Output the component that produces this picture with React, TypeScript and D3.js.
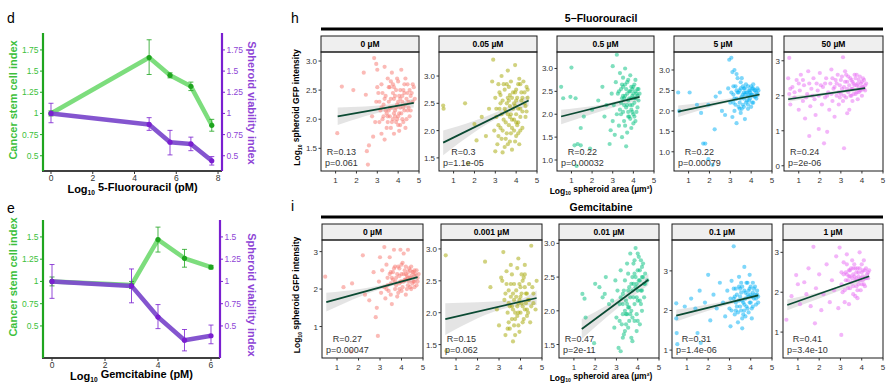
import React, { useEffect, useRef } from 'react'
import * as d3 from 'd3'

const FONT = 'Liberation Sans, Arial, Helvetica, sans-serif'
const STEM = '#1fa51f'
const STEM_LINE = '#6fd96f'
const STEM_TEXT = '#3cbf3c'
const VIAB = '#7a1fd0'
const VIAB_LINE = '#7d4ccc'
const VIAB_TEXT = '#8e44d6'

// d: 5-fluorouracil, log10 dose (pM)
const fuLogDose = [0, 4.7, 5.7, 6.7, 7.7]
const fuStem = [1, 1.66, 1.45, 1.32, 0.86]
const fuStemLo = [0.97, 1.46, 1.42, 1.27, 0.79]
const fuStemHi = [1.03, 1.87, 1.48, 1.37, 0.93]
const fuViab = [1, 0.87, 0.66, 0.64, 0.44]
const fuViabLo = [0.89, 0.8, 0.51, 0.56, 0.39]
const fuViabHi = [1.12, 0.95, 0.8, 0.72, 0.49]
const fuIndexTicks = [0.5, 0.75, 1, 1.25, 1.5, 1.75]
const fuDoseTicks = [0, 2, 4, 6, 8]

// e: gemcitabine
const gemLogDose = [0, 3, 4, 5, 6]
const gemStem = [1, 0.96, 1.47, 1.26, 1.16]
const gemStemLo = [0.95, 0.92, 1.33, 1.16, 1.14]
const gemStemHi = [1.05, 1.0, 1.61, 1.36, 1.18]
const gemViab = [1, 0.95, 0.6, 0.34, 0.39]
const gemViabLo = [0.81, 0.76, 0.47, 0.22, 0.3]
const gemViabHi = [1.19, 1.14, 0.74, 0.46, 0.51]
const gemIndexTicks = [0.5, 0.75, 1, 1.25, 1.5]
const gemDoseTicks = [0, 2, 4, 6]

// h / i facets
const doseColors = ['#F8766D', '#A3A500', '#00BF7D', '#00B0F6', '#E76BF3']
const areaTicks = [1, 2, 3, 4, 5]

const fuDoses = ['0 µM', '0.05 µM', '0.5 µM', '5 µM', '50 µM']
const fuYDomains = [[1.11, 3.155], [1.26, 3.44], [0.76, 3.36], [0.53, 3.44], [-0.15, 3.25]]
const fuYTicks = [[1.5, 2, 2.5, 3], [1.5, 2, 2.5, 3], [1, 1.5, 2, 2.5, 3], [1, 1.5, 2, 2.5, 3], [0, 1, 2, 3]]
const fuYFmt = ['.1f', '.1f', '.1f', '.1f', 'd']
const fuR = ['R=0.13', 'R=0.3', 'R=0.22', 'R=0.22', 'R=0.24']
const fuP = ['p=0.061', 'p=1.1e-05', 'p=0.00032', 'p=0.00079', 'p=2e-06']
const fuFits = [[1.1, 2.05, 4.75, 2.28], [0.5, 1.78, 4.6, 2.55], [0.5, 1.95, 4.3, 2.38], [0.5, 1.98, 4.4, 2.4], [0.5, 1.9, 4.15, 2.22]]
const fuBands = [
  [[1.1, 1.9, 2.2], [3.7, 2.16, 2.26], [4.75, 2.2, 2.36]],
  [[0.5, 1.55, 2.0], [3.5, 2.3, 2.42], [4.6, 2.45, 2.65]],
  [[0.5, 1.78, 2.1], [3.6, 2.22, 2.34], [4.3, 2.3, 2.45]],
  [[0.5, 1.85, 2.13], [3.6, 2.28, 2.37], [4.4, 2.34, 2.47]],
  [[0.5, 1.83, 1.98], [2.8, 2.06, 2.14], [4.15, 2.16, 2.28]],
]
const fuPts0 = '1.08,1.76;1.3,2.56;1.85,2.5;2.35,2.8;2.45,2.42;2.5,1.45;2.55,1.22;2.6,1.55;2.8,1.7;2.75,2.05;2.85,3.05;2.95,2.95;2.95,2.3;3.0,2.85;3.05,2.45;3.1,1.95;3.15,2.15;3.2,2.6;3.2,1.75;3.25,2.0;3.3,2.25;3.35,2.9;3.35,1.65;3.4,2.4;3.45,2.1;3.5,2.7;3.5,1.95;3.55,2.3;3.6,2.05;3.6,2.55;3.65,1.85;3.7,2.2;3.7,2.8;3.75,2.0;3.8,2.35;3.8,1.75;3.85,2.15;3.9,2.5;3.9,1.95;3.95,2.25;4.0,2.05;4.0,2.65;4.05,2.4;4.1,1.9;4.1,2.2;4.15,2.85;4.2,2.3;4.2,2.0;4.25,2.5;4.3,2.15;4.35,1.85;4.4,2.35;4.45,2.6;4.5,2.2;4.55,2.05;4.6,2.4;4.7,2.3;4.75,2.55;3.3,2.05;3.65,2.35;3.85,2.05;4.05,2.1;3.55,2.15;2.9,1.95;3.75,2.45;4.3,2.45'
const fuCore0 = '3.1,2.3;3.25,2.45;3.4,2.15;3.45,1.85;3.55,2.55;3.6,2.2;3.7,1.95;3.75,2.6;3.8,2.1;3.85,2.4;3.95,2.0;3.95,2.7;4.0,2.3;4.05,1.8;4.1,2.5;4.15,2.1;4.2,2.4;4.25,1.95;4.3,2.6;4.35,2.25;4.4,2.0;4.45,2.45;4.5,2.3;4.55,2.5;4.6,2.15;4.65,2.45;4.7,2.6;4.8,2.35;3.35,2.35;3.5,2.05;3.65,2.65;3.9,2.2;4.0,1.9;4.25,2.2;4.45,2.15;3.2,2.2;3.0,2.55;4.35,2.7;3.8,2.55;4.1,2.35'
const fuPts1 = '0.5,2.46;0.52,2.4;1.55,2.5;1.7,1.4;2.0,2.12;2.1,1.82;2.35,2.25;2.55,1.9;2.7,2.4;2.85,2.9;2.9,3.3;2.95,2.0;3.0,1.62;3.0,2.6;3.05,2.25;3.1,1.75;3.15,2.85;3.2,2.4;3.25,2.05;3.3,3.0;3.3,1.85;3.35,2.55;3.4,2.2;3.45,1.7;3.45,2.75;3.5,2.35;3.55,1.95;3.6,3.1;3.6,2.6;3.65,2.1;3.7,1.8;3.7,2.45;3.75,2.9;3.8,2.2;3.8,1.65;3.85,2.7;3.9,2.0;3.9,2.5;3.95,3.2;4.0,2.3;4.0,1.9;4.05,2.6;4.1,2.15;4.1,2.85;4.15,1.75;4.2,2.4;4.25,2.7;4.3,2.05;4.35,2.9;4.4,2.5;4.45,2.25;4.5,2.8;4.55,2.6;3.35,1.6;3.55,2.85;4.0,2.75;3.25,2.65;3.75,2.3;3.95,2.45;4.2,2.0;3.15,2.1;3.65,2.55'
const fuCore1 = '3.05,2.4;3.15,1.9;3.2,2.7;3.3,2.3;3.35,2.0;3.4,2.85;3.5,2.15;3.55,2.5;3.6,1.75;3.65,2.8;3.7,2.25;3.75,1.95;3.8,2.6;3.85,2.4;3.9,2.2;3.95,1.8;4.0,2.55;4.05,2.1;4.1,2.4;4.15,2.95;4.2,2.25;4.25,2.55;4.3,2.35;4.4,2.7;4.45,2.45;4.5,2.35;4.55,2.75;3.45,2.4;3.6,2.3;3.8,2.05;3.95,2.7;4.1,1.95;4.3,2.6;3.25,2.5;3.7,2.65;4.0,2.15;3.5,1.85;4.2,2.85'
const fuPts2 = '0.5,2.6;0.6,2.35;0.95,2.38;1.0,3.02;1.2,2.35;1.15,1.32;1.3,1.35;1.45,1.32;1.25,0.87;1.45,1.7;1.6,1.95;1.9,1.25;2.0,2.1;2.3,2.3;2.5,2.6;2.6,1.95;2.7,2.2;2.85,1.35;2.9,1.65;2.95,2.45;3.0,1.85;3.0,3.05;3.05,2.2;3.1,1.55;3.15,2.7;3.2,2.0;3.2,3.3;3.25,2.45;3.3,1.75;3.35,2.9;3.4,2.25;3.45,1.5;3.5,2.6;3.5,2.05;3.55,1.85;3.6,2.4;3.6,3.0;3.65,2.15;3.7,1.6;3.7,2.7;3.75,2.3;3.8,1.95;3.8,2.5;3.85,2.85;3.9,2.1;3.9,1.7;3.95,2.4;4.0,2.6;4.0,2.0;4.05,2.25;4.1,2.75;4.1,1.85;4.15,2.45;4.2,2.15;4.25,2.55;3.35,2.1;3.55,2.35;3.75,2.05;3.95,2.55;3.45,2.65;4.05,2.35;3.65,1.3;3.85,2.2'
const fuCore2 = '3.3,2.5;3.4,2.0;3.45,2.35;3.5,2.8;3.55,2.2;3.6,1.75;3.65,2.55;3.7,2.2;3.75,2.75;3.8,2.35;3.85,1.9;3.9,2.6;3.95,2.2;4.0,2.45;4.0,1.8;4.05,2.65;4.1,2.35;4.15,2.05;4.2,2.55;4.25,2.3;4.3,2.45;3.5,2.4;3.7,2.45;3.85,2.5;3.95,2.05;4.1,2.5;3.6,2.65;3.75,1.95;4.2,2.4;3.4,2.55;3.9,2.35;4.05,1.95'
const fuPts3 = '0.5,2.45;0.55,2.0;1.05,2.45;1.4,2.15;1.6,1.95;1.7,1.2;1.8,1.2;1.95,0.82;2.15,0.68;1.95,2.15;2.25,1.55;2.3,2.35;2.5,2.45;2.6,2.0;2.75,1.9;2.9,2.55;2.95,3.25;3.0,2.2;3.05,3.3;3.1,1.85;3.1,2.95;3.15,2.4;3.2,2.0;3.2,3.0;3.25,2.6;3.3,1.7;3.3,2.3;3.35,2.8;3.4,2.1;3.45,2.5;3.5,1.95;3.5,2.7;3.55,2.35;3.6,2.15;3.65,2.55;3.7,1.8;3.7,2.4;3.75,2.65;3.8,2.25;3.85,2.05;3.9,2.5;3.95,2.3;4.0,2.6;4.0,2.1;4.05,2.4;4.1,2.2;4.15,2.5;4.2,2.35;4.25,2.45;4.3,2.55;3.35,2.45;3.55,2.05;3.75,2.45;3.95,2.45;3.45,2.2;3.65,2.3;4.1,2.65;3.25,2.15;3.85,2.35'
const fuCore3 = '3.05,2.45;3.15,2.6;3.2,2.3;3.3,2.9;3.4,2.45;3.45,2.05;3.5,2.55;3.55,2.8;3.6,2.4;3.65,2.1;3.7,2.55;3.75,2.2;3.8,2.45;3.85,2.6;3.9,2.25;3.95,2.5;4.0,2.4;4.05,2.2;4.1,2.55;4.15,2.35;4.2,2.5;4.3,2.4;4.35,2.5;3.5,2.3;3.65,2.45;3.9,2.4;4.05,2.55;4.25,2.3;3.3,2.5;3.6,2.6;3.85,2.15;3.15,2.2'
const fuPts4 = '0.55,3.08;0.5,2.5;0.55,2.05;0.6,1.75;0.7,2.25;0.8,1.95;0.9,2.45;1.0,1.6;1.05,2.15;1.1,2.6;1.2,1.85;1.25,2.3;1.3,1.35;1.4,2.05;1.45,2.7;1.5,0.85;1.55,1.7;1.6,2.2;1.7,2.5;1.75,1.9;1.8,1.45;1.85,2.35;1.95,1.05;1.95,2.0;2.0,2.65;2.1,1.75;2.15,2.25;2.2,0.64;2.25,1.95;2.3,2.5;2.35,0.97;2.4,2.1;2.45,1.6;2.5,2.35;2.55,2.75;2.6,1.85;2.65,2.2;2.7,1.4;2.75,2.45;2.8,2.0;2.85,2.6;2.9,1.75;2.95,2.3;3.0,2.05;3.05,2.55;3.1,3.1;3.1,1.85;3.15,0.5;3.15,2.25;3.2,2.7;3.25,1.95;3.3,2.4;3.35,2.1;3.4,1.6;3.45,2.5;3.5,2.2;3.55,1.85;3.6,2.35;3.65,2.6;3.7,2.05;3.75,2.3;3.8,1.9;3.85,2.45;3.9,2.15;3.95,2.35;4.0,2.0;4.05,2.5;4.1,2.2;4.15,2.3;3.55,2.4;3.85,2.1;2.25,2.35;1.65,2.0;1.2,2.45;0.8,2.1;3.3,1.5'
const fuCore4 = '2.55,2.05;2.6,2.5;2.7,2.25;2.8,2.35;2.9,2.1;3.0,2.45;3.05,2.2;3.15,2.0;3.2,2.4;3.3,2.2;3.35,2.55;3.4,2.3;3.45,2.0;3.5,2.45;3.55,2.2;3.6,2.05;3.65,2.3;3.7,2.5;3.75,2.1;3.8,2.35;3.85,2.25;3.9,2.55;3.95,2.15;4.0,2.4;4.05,2.25;4.1,2.45;4.15,2.15;4.2,2.35;2.05,2.3;1.9,2.15;1.5,2.35;1.35,1.95;1.0,2.35;0.6,2.2;2.35,2.0;2.95,1.95;3.25,2.6;3.75,2.6;4.0,2.25;3.5,2.0'

const gemDoses = ['0 µM', '0.001 µM', '0.01 µM', '0.1 µM', '1 µM']
const gemYDomains = [[0.16, 3.31], [1.29, 3.14], [1.3, 3.05], [0.8, 3.78], [0.35, 3.31]]
const gemYTicks = [[1, 2, 3], [1.5, 2, 2.5, 3], [1.5, 2, 2.5, 3], [1, 2, 3], [1, 2, 3]]
const gemYFmt = ['d', '.1f', '.1f', 'd', 'd']
const gemR = ['R=0.27', 'R=0.15', 'R=0.47', 'R=0.31', 'R=0.41']
const gemP = ['p=0.00047', 'p=0.062', 'p=2e-11', 'p=1.4e-06', 'p=3.4e-10']
const gemFits = [[0.5, 1.65, 4.75, 2.32], [0.5, 1.9, 4.75, 2.23], [1.37, 1.73, 4.5, 2.46], [0.5, 1.87, 4.35, 2.38], [0.5, 1.68, 4.35, 2.4]]
const gemBands = [
  [[0.5, 1.4, 1.9], [3.8, 2.12, 2.22], [4.75, 2.22, 2.42]],
  [[0.5, 1.65, 2.15], [3.8, 2.1, 2.2], [4.75, 2.12, 2.35]],
  [[1.37, 1.58, 1.88], [3.7, 2.2, 2.33], [4.5, 2.38, 2.55]],
  [[0.5, 1.72, 2.02], [3.5, 2.22, 2.32], [4.35, 2.32, 2.45]],
  [[0.5, 1.55, 1.82], [3.5, 2.15, 2.27], [4.35, 2.33, 2.48]],
]
const gemPts0 = '0.45,2.33;1.3,2.05;1.7,2.15;1.65,0.33;2.2,2.9;2.3,1.85;2.5,1.7;2.7,2.45;2.8,1.25;2.85,1.5;2.9,0.75;2.95,2.2;3.0,2.85;3.05,1.9;3.1,2.5;3.2,3.12;3.2,2.05;3.25,1.75;3.3,2.65;3.35,2.3;3.4,1.95;3.45,2.85;3.5,2.15;3.55,1.6;3.6,2.45;3.65,3.05;3.7,2.0;3.75,2.3;3.8,1.8;3.85,2.6;3.9,2.15;3.95,3.05;4.0,2.4;4.0,1.95;4.05,2.7;4.1,2.2;4.15,2.5;4.2,1.85;4.25,2.35;4.3,2.1;4.35,2.55;4.4,2.3;4.45,2.0;4.5,2.45;4.55,2.2;4.6,2.35;4.7,2.1;4.75,2.3;4.3,3.05;4.1,2.95;3.5,2.45;3.7,2.2;4.2,2.25;3.9,2.35;3.3,2.0;4.4,2.05;4.6,2.5'
const gemCore0 = '3.35,2.1;3.45,2.4;3.5,1.85;3.6,2.25;3.65,2.55;3.75,2.1;3.8,2.4;3.85,1.9;3.9,2.55;3.95,2.2;4.0,2.65;4.05,2.05;4.1,2.4;4.15,2.25;4.2,2.6;4.25,2.0;4.3,2.45;4.35,2.2;4.4,2.5;4.45,2.35;4.5,2.15;4.55,2.45;4.6,2.2;4.65,2.4;4.7,2.5;4.75,2.2;4.8,2.4;3.55,2.3;3.7,2.6;4.0,2.2;4.2,2.4;4.45,2.6;3.9,2.0;4.3,2.3;4.6,2.05'
const gemPts1 = '0.52,2.9;0.55,1.4;2.35,2.8;2.6,2.4;2.9,2.05;3.0,1.8;3.1,2.55;3.2,2.95;3.25,2.2;3.3,1.65;3.35,2.65;3.4,2.0;3.45,2.35;3.5,1.75;3.55,2.75;3.6,2.1;3.65,1.55;3.7,2.45;3.75,1.9;3.8,2.25;3.85,2.7;3.9,2.0;3.95,1.7;4.0,2.4;4.05,2.15;4.1,1.85;4.15,2.55;4.2,2.05;4.25,2.3;4.3,1.95;4.35,2.2;4.4,2.45;4.5,2.1;4.6,2.3;4.75,2.5;4.7,2.05;3.15,2.5;3.45,1.85;3.75,2.0;3.95,2.2;4.05,2.6;3.55,2.25;3.85,1.95;4.2,2.75;3.35,2.45;3.65,2.05;4.5,3.05;3.9,2.85'
const gemCore1 = '3.3,2.3;3.4,1.75;3.5,2.1;3.55,2.45;3.6,1.9;3.7,2.2;3.75,1.65;3.8,2.35;3.85,2.1;3.9,1.8;3.95,2.45;4.0,2.0;4.05,2.3;4.1,2.1;4.15,1.9;4.2,2.4;4.25,2.15;4.3,2.3;4.35,2.0;4.4,2.2;4.45,1.85;4.55,2.4;4.6,2.15;3.65,2.3;3.9,2.15;4.1,2.5;3.45,2.15;3.7,1.8;4.0,2.25;4.3,2.05;3.6,2.6;4.2,2.6'
const gemPts2 = '1.4,2.25;1.5,2.18;1.55,1.9;1.95,1.52;2.0,2.4;2.2,2.35;2.35,2.2;2.45,2.25;2.5,2.5;2.65,2.1;2.8,2.15;2.9,1.75;2.95,2.45;3.0,1.9;3.05,2.3;3.1,1.45;3.15,2.1;3.2,1.4;3.2,2.6;3.25,1.8;3.3,2.25;3.35,1.65;3.4,2.45;3.45,1.95;3.5,2.7;3.5,2.1;3.55,1.75;3.6,2.35;3.65,2.85;3.7,2.0;3.7,1.6;3.75,2.5;3.8,2.2;3.85,1.85;3.85,2.75;3.9,2.93;3.9,2.35;3.95,1.95;4.0,2.6;4.0,2.15;4.05,2.8;4.1,1.8;4.1,2.45;4.15,2.3;4.2,2.65;4.2,2.0;4.25,2.5;4.3,2.2;4.35,2.4;4.45,2.45;3.6,2.05;3.4,2.0;3.8,2.4;4.0,2.3;3.3,1.6;3.55,2.3;3.95,1.7;4.15,2.75;3.75,1.55'
const gemCore2 = '3.15,1.85;3.2,2.2;3.3,1.95;3.35,2.3;3.4,1.7;3.45,2.15;3.5,1.95;3.55,2.55;3.6,1.85;3.65,2.2;3.7,2.4;3.75,1.9;3.8,2.7;3.85,2.1;3.9,2.5;3.95,2.2;4.0,2.85;4.0,1.85;4.05,2.45;4.1,2.6;4.15,2.1;4.2,2.3;4.25,2.7;4.3,2.4;4.35,2.55;3.45,1.8;3.65,1.95;3.95,2.4;4.1,2.15;3.3,2.1;3.85,2.55;4.2,2.5;3.55,2.05;3.75,2.3'
const gemPts3 = '0.5,2.18;0.5,1.8;0.52,1.43;0.55,1.15;0.9,2.1;1.2,2.3;1.4,2.05;1.5,1.43;1.6,2.5;1.65,1.18;1.85,2.2;2.0,2.9;2.1,1.75;2.25,2.4;2.4,2.05;2.55,2.7;2.7,2.2;2.8,1.85;2.9,2.5;3.0,2.05;3.05,1.6;3.1,2.75;3.2,3.62;3.2,2.3;3.25,1.9;3.3,2.55;3.35,2.1;3.4,1.7;3.45,2.85;3.5,2.35;3.55,2.0;3.6,1.55;3.6,2.6;3.65,2.2;3.7,3.1;3.75,1.85;3.75,2.45;3.8,2.1;3.85,2.7;3.9,1.95;3.9,2.35;3.95,2.55;4.0,2.2;4.05,1.8;4.1,2.45;4.15,2.3;4.2,2.6;4.25,2.15;4.3,2.4;4.35,2.35;3.45,2.25;3.7,2.0;3.95,2.9;3.3,2.0;3.55,2.7;4.05,2.05'
const gemCore3 = '3.05,2.3;3.1,2.0;3.2,2.55;3.3,2.2;3.35,2.4;3.4,1.95;3.45,2.6;3.5,2.1;3.55,2.45;3.6,2.25;3.65,1.9;3.7,2.5;3.75,2.3;3.8,2.7;3.85,2.05;3.9,2.5;3.95,2.2;4.0,2.6;4.05,2.35;4.1,2.1;4.15,2.55;4.2,2.4;4.25,2.3;4.3,2.5;4.35,2.2;3.5,2.55;3.7,2.15;4.0,2.4;3.25,2.35;3.85,2.4;4.1,2.7;3.6,1.8'
const gemPts4 = '0.46,1.31;0.7,1.9;0.92,2.43;1.0,2.2;1.1,1.7;1.3,2.25;1.4,1.95;1.5,2.6;1.6,1.65;1.73,3.14;1.8,1.22;1.85,2.1;2.0,2.45;2.1,1.55;2.2,1.95;2.35,2.7;2.5,1.75;2.6,2.3;2.7,2.05;2.8,2.9;2.9,1.6;2.96,3.12;3.04,0.93;3.05,2.5;3.1,2.0;3.15,2.75;3.2,1.75;3.25,2.3;3.3,2.95;3.35,2.1;3.4,1.7;3.45,2.55;3.5,2.25;3.55,2.8;3.6,1.95;3.65,2.4;3.7,2.6;3.75,2.15;3.8,1.85;3.85,2.5;3.9,3.0;3.9,2.3;3.95,2.05;4.0,2.7;4.05,2.4;4.1,2.2;4.15,2.55;4.2,2.35;4.3,2.5;3.45,2.4;3.75,2.35;4.0,2.5;3.6,2.6;3.3,2.45;3.85,2.2'
const gemCore4 = '3.05,2.2;3.15,2.45;3.2,2.05;3.3,2.7;3.35,2.3;3.4,2.55;3.45,2.1;3.5,2.6;3.55,2.35;3.6,2.15;3.65,2.7;3.7,2.3;3.75,2.5;3.8,2.05;3.85,2.4;3.9,2.6;3.95,2.35;4.0,2.2;4.05,2.55;4.1,2.8;4.15,2.35;4.2,2.6;4.25,2.45;4.3,2.35;4.35,2.55;3.4,2.4;3.6,2.45;3.8,2.6;4.05,2.3;3.25,2.5;3.7,1.9;4.15,2.15'

const fuPts = [fuPts0 + ';' + fuCore0, fuPts1 + ';' + fuCore1, fuPts2 + ';' + fuCore2, fuPts3 + ';' + fuCore3, fuPts4 + ';' + fuCore4]
const gemPts = [gemPts0 + ';' + gemCore0, gemPts1 + ';' + gemCore1, gemPts2 + ';' + gemCore2, gemPts3 + ';' + gemCore3, gemPts4 + ';' + gemCore4]

const parsePts = (s: string) => s.split(';').map((p) => p.split(',').map(Number))

type Sel = d3.Selection<SVGSVGElement, unknown, null, undefined>

// "Log10 ..." label with a subscript
function logLabel(el: any, rest: string) {
  el.append('tspan').text('Log')
  el.append('tspan').attr('font-size', '0.6em').attr('dy', '0.35em').text('10')
  el.append('tspan').attr('dy', '-0.35em').text(' ' + rest)
}

function drawDual(svg: Sel, o: any) {
  const x = d3.scaleLinear().domain(o.xDomain).range([o.left, o.right])
  const y = d3.scaleLinear().domain(o.yDomain).range([o.bottom, o.top])
  const g = svg.append('g').attr('font-family', FONT)

  g.append('text').attr('x', 7).attr('y', o.letterY).attr('font-size', 14).text(o.letter)

  // x axis
  g.append('line').attr('x1', o.left - 1).attr('x2', o.right).attr('y1', o.bottom).attr('y2', o.bottom)
    .attr('stroke', '#000').attr('stroke-width', 1.3)
  o.xTicks.forEach((t: number) => {
    g.append('line').attr('x1', x(t)).attr('x2', x(t)).attr('y1', o.bottom).attr('y2', o.bottom + 3).attr('stroke', '#333')
    g.append('text').attr('x', x(t)).attr('y', o.bottom + 10).attr('text-anchor', 'middle')
      .attr('font-size', 8.5).attr('fill', '#333').text(t)
  })
  const xl = g.append('text').attr('x', (o.left + o.right) / 2).attr('y', o.bottom + 22)
    .attr('text-anchor', 'middle').attr('font-size', 11).attr('font-weight', 'bold')
  logLabel(xl, o.xTitle)

  // left (stem) and right (viability) axes
  const axes = [
    { xPos: o.left, dir: -1, col: STEM, txt: STEM_TEXT, title: 'Cancer stem cell index', tx: 13, rot: -90, cy: o.lTitleY },
    { xPos: o.right, dir: 1, col: VIAB, txt: VIAB_TEXT, title: 'Spheroid viability index', tx: 252, rot: 90, cy: o.rTitleY },
  ]
  axes.forEach((a) => {
    g.append('line').attr('x1', a.xPos).attr('x2', a.xPos).attr('y1', o.top).attr('y2', o.bottom)
      .attr('stroke', a.col).attr('stroke-width', 2.2)
    o.yTicks.forEach((t: number) => {
      g.append('line').attr('x1', a.xPos).attr('x2', a.xPos + a.dir * 3).attr('y1', y(t)).attr('y2', y(t))
        .attr('stroke', a.col).attr('stroke-width', 1)
      g.append('text').attr('x', a.xPos + a.dir * 4.5).attr('y', y(t) + 3)
        .attr('text-anchor', a.dir < 0 ? 'end' : 'start').attr('font-size', 8.5).attr('fill', a.txt).text(t)
    })
    g.append('text').attr('transform', `translate(${a.tx},${a.cy}) rotate(${a.rot})`)
      .attr('text-anchor', 'middle').attr('dy', '0.35em').attr('font-size', 11).attr('font-weight', 'bold')
      .attr('fill', a.txt).text(a.title)
  })

  const series = [
    { v: o.stem, lo: o.stemLo, hi: o.stemHi, line: STEM_LINE, pt: STEM, op: 0.9 },
    { v: o.viab, lo: o.viabLo, hi: o.viabHi, line: VIAB_LINE, pt: VIAB, op: 0.95 },
  ]
  series.forEach((s) => {
    const pts = o.dose.map((d: number, i: number) => [d, s.v[i]])
    g.append('path').attr('d', d3.line().x((d: any) => x(d[0])).y((d: any) => y(d[1]))(pts))
      .attr('fill', 'none').attr('stroke', s.line).attr('stroke-width', 4.5).attr('opacity', s.op)
      .attr('stroke-linejoin', 'round')
    o.dose.forEach((d: number, i: number) => {
      const cx = x(d)
      g.append('line').attr('x1', cx).attr('x2', cx).attr('y1', y(s.lo[i])).attr('y2', y(s.hi[i]))
        .attr('stroke', s.pt).attr('stroke-width', 1).attr('opacity', 0.8)
      ;[s.lo[i], s.hi[i]].forEach((e: number) => {
        g.append('line').attr('x1', cx - 2.5).attr('x2', cx + 2.5).attr('y1', y(e)).attr('y2', y(e))
          .attr('stroke', s.pt).attr('stroke-width', 1).attr('opacity', 0.8)
      })
      g.append('circle').attr('cx', cx).attr('cy', y(s.v[i])).attr('r', 2.6).attr('fill', s.pt)
    })
  })
}

function drawFacets(svg: Sel, o: any) {
  const g = svg.append('g').attr('font-family', FONT)
  g.append('text').attr('x', 291).attr('y', o.letterY).attr('font-size', 14).text(o.letter)
  g.append('text').attr('x', 601).attr('y', o.titleY).attr('text-anchor', 'middle')
    .attr('font-size', 10.5).attr('font-weight', 'bold').text(o.title)
  g.append('line').attr('x1', 321).attr('x2', 883).attr('y1', o.barY).attr('y2', o.barY)
    .attr('stroke', '#000').attr('stroke-width', 3)

  const yt = g.append('text')
    .attr('transform', `translate(297,${(o.stripTop + o.bottom) / 2 + 4}) rotate(-90)`)
    .attr('text-anchor', 'middle').attr('dy', '0.35em').attr('font-size', 8.5).attr('font-weight', 'bold')
  logLabel(yt, 'spheroid GFP intensity')
  const xt = g.append('text').attr('x', 601).attr('y', o.bottom + 22.5).attr('text-anchor', 'middle')
    .attr('font-size', 8.5).attr('font-weight', 'bold')
  logLabel(xt, 'spheroid area (µm²)')

  o.labels.forEach((lab: string, i: number) => {
    const L = o.lefts[i]
    const R = o.rights[i]
    const top = o.stripTop + 16
    const x = d3.scaleLinear().domain([0.3, 5.0]).range([L, R])
    const y = d3.scaleLinear().domain(o.yDomains[i]).range([o.bottom, top])
    const p = g.append('g')

    p.append('rect').attr('x', L).attr('y', o.stripTop).attr('width', R - L).attr('height', 16)
      .attr('fill', '#efefef').attr('stroke', '#1a1a1a').attr('stroke-width', 1)
    p.append('text').attr('x', (L + R) / 2).attr('y', o.stripTop + 11).attr('text-anchor', 'middle')
      .attr('font-size', 8.5).attr('font-weight', 'bold').text(lab)

    // confidence band, points, fit line
    p.append('path')
      .attr('d', d3.area().x((d: any) => x(d[0])).y0((d: any) => y(d[1])).y1((d: any) => y(d[2]))
        .curve(d3.curveMonotoneX)(o.bands[i]))
      .attr('fill', '#c4c4c4').attr('opacity', 0.45)
    p.selectAll('circle.pt').data(parsePts(o.points[i])).enter().append('circle')
      .attr('cx', (d: number[]) => x(d[0])).attr('cy', (d: number[]) => y(d[1])).attr('r', 2.1)
      .attr('fill', o.colors[i]).attr('opacity', 0.5)
    const f = o.fits[i]
    p.append('line').attr('x1', x(f[0])).attr('y1', y(f[1])).attr('x2', x(f[2])).attr('y2', y(f[3]))
      .attr('stroke', '#0b4a33').attr('stroke-width', 1.7)

    p.append('rect').attr('x', L).attr('y', top).attr('width', R - L).attr('height', o.bottom - top)
      .attr('fill', 'none').attr('stroke', '#1a1a1a').attr('stroke-width', 1)

    // axes
    const fmt = d3.format(o.yFmt[i])
    o.yTicks[i].forEach((t: number) => {
      p.append('line').attr('x1', L - 2.5).attr('x2', L).attr('y1', y(t)).attr('y2', y(t)).attr('stroke', '#333')
      p.append('text').attr('x', L - 4).attr('y', y(t) + 3).attr('text-anchor', 'end')
        .attr('font-size', 8).attr('fill', '#333').text(fmt(t))
    })
    areaTicks.forEach((t) => {
      p.append('line').attr('x1', x(t)).attr('x2', x(t)).attr('y1', o.bottom).attr('y2', o.bottom + 2.5).attr('stroke', '#333')
      p.append('text').attr('x', x(t)).attr('y', o.bottom + 11.5).attr('text-anchor', 'middle')
        .attr('font-size', 8).attr('fill', '#333').text(t)
    })

    // correlation label: lines centred on each other
    const pt = p.append('text').attr('x', L + 4).attr('y', o.bottom - 5)
      .attr('font-size', 9).attr('fill', '#333').text(o.pTxt[i])
    const w = (pt.node() as SVGTextElement).getComputedTextLength()
    p.append('text').attr('x', L + 4 + w / 2).attr('y', o.bottom - 16).attr('text-anchor', 'middle')
      .attr('font-size', 9).attr('fill', '#333').text(o.rTxt[i])
  })
}

export default function App() {
  const ref = useRef<SVGSVGElement>(null)

  useEffect(() => {
    if (!ref.current) return
    const svg = d3.select(ref.current)
    svg.selectAll('*').remove()

    drawDual(svg, {
      letter: 'd', letterY: 23, left: 43, right: 222, top: 33, bottom: 171,
      xDomain: [-0.383, 8.19], yDomain: [0.32, 1.95], xTicks: fuDoseTicks, yTicks: fuIndexTicks,
      xTitle: '5-Fluorouracil (pM)', lTitleY: 100, rTitleY: 103,
      dose: fuLogDose, stem: fuStem, stemLo: fuStemLo, stemHi: fuStemHi,
      viab: fuViab, viabLo: fuViabLo, viabHi: fuViabHi,
    })
    drawDual(svg, {
      letter: 'e', letterY: 212.5, left: 43, right: 220, top: 220, bottom: 358,
      xDomain: [-0.34, 6.34], yDomain: [0.14, 1.69], xTicks: gemDoseTicks, yTicks: gemIndexTicks,
      xTitle: 'Gemcitabine (pM)', lTitleY: 277, rTitleY: 295,
      dose: gemLogDose, stem: gemStem, stemLo: gemStemLo, stemHi: gemStemHi,
      viab: gemViab, viabLo: gemViabLo, viabHi: gemViabHi,
    })

    drawFacets(svg, {
      letter: 'h', letterY: 23, title: '5\u2212Fluorouracil', titleY: 22, barY: 29,
      stripTop: 36, bottom: 171,
      lefts: [321, 439, 557, 674, 784], rights: [419, 537, 654, 772, 883],
      labels: fuDoses, colors: doseColors, points: fuPts, yDomains: fuYDomains, yTicks: fuYTicks,
      yFmt: fuYFmt, fits: fuFits, bands: fuBands, rTxt: fuR, pTxt: fuP,
    })
    drawFacets(svg, {
      letter: 'i', letterY: 211, title: 'Gemcitabine', titleY: 211, barY: 217,
      stripTop: 224, bottom: 358,
      lefts: [322, 441, 559, 672, 783], rights: [423, 542, 659, 772, 883],
      labels: gemDoses, colors: doseColors, points: gemPts, yDomains: gemYDomains, yTicks: gemYTicks,
      yFmt: gemYFmt, fits: gemFits, bands: gemBands, rTxt: gemR, pTxt: gemP,
    })
  }, [])

  return (
    <svg ref={ref} width={893} height={390}
      style={{ position: 'absolute', left: 0, top: 0, background: '#fff' }} />
  )
}
